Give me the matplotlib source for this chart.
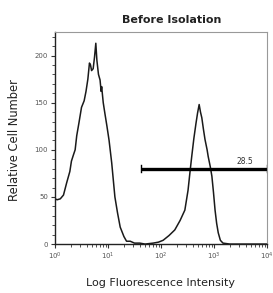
import numpy as np
import matplotlib
matplotlib.use("Agg")
import matplotlib.pyplot as plt
from matplotlib.ticker import LogLocator, MultipleLocator, FixedLocator

# Histogram: log10 of fluorescence, and relative cell number
log_intensity = [0.00, 0.04, 0.10, 0.16, 0.22, 0.28, 0.31, 0.35, 0.38, 0.41, 0.45, 0.50,
                 0.55, 0.585, 0.62, 0.65, 0.67, 0.69, 0.72, 0.745, 0.77, 0.79, 0.82, 0.85,
                 0.87, 0.88, 0.91, 0.94, 0.98, 1.02, 1.07, 1.13, 1.18, 1.23, 1.30, 1.35,
                 1.42, 1.50, 1.60, 1.70, 1.85, 1.95, 2.04, 2.15, 2.26, 2.36, 2.45, 2.51,
                 2.55, 2.58, 2.62, 2.66, 2.69, 2.72, 2.745, 2.77, 2.80, 2.83, 2.87, 2.89,
                 2.93, 2.96, 2.99, 3.02, 3.05, 3.08, 3.12, 3.17, 3.30, 3.60, 4.00]
cell_number = [48, 47, 48, 52, 65, 77, 88, 95, 100, 115, 128, 145,
               152, 162, 175, 192, 190, 184, 186, 198, 213, 195, 180, 174,
               162, 167, 150, 139, 125, 110, 86, 50, 33, 18, 8, 3,
               3, 1, 1, 0, 1, 2, 4, 9, 15, 25, 36, 57,
               78, 93, 112, 128, 139, 148, 140, 134, 122, 111, 100, 93,
               82, 72, 55, 36, 22, 12, 4, 1, 0, 0, 0]

gate_start = 41.5
gate_end = 10000
gate_level = 80
gate_label = "28.5"

title = "Before Isolation"
xlabel = "Log Fluorescence Intensity"
ylabel = "Relative Cell Number"

intensity = [10 ** v for v in log_intensity]

fig = plt.figure(figsize=(2.73, 2.93), dpi=100)
ax = fig.add_axes([0.2015, 0.167, 0.7765, 0.724])

ax.plot(intensity, cell_number, color="#1a1a1a", lw=1.1)

ax.plot([gate_start, gate_end], [gate_level, gate_level], color="black", lw=2.4,
        solid_capstyle="butt")
ax.plot([gate_start, gate_start], [gate_level - 4, gate_level + 4], color="black", lw=1.0)
ax.plot([gate_end, gate_end], [gate_level - 4, gate_level + 4], color="black", lw=1.0)
ax.text(10 ** 3.58, gate_level + 3, gate_label, fontsize=5.5, color="#333333",
        ha="center", va="bottom")

ax.set_xscale("log")
ax.set_xlim(1, 10000)
ax.set_ylim(0, 225)

ax.xaxis.set_major_locator(LogLocator(base=10, numticks=10))
ax.xaxis.set_minor_locator(LogLocator(base=10, subs=np.arange(2, 10), numticks=20))
ax.yaxis.set_major_locator(FixedLocator([0, 50, 100, 150, 200]))
ax.yaxis.set_minor_locator(MultipleLocator(10))

ax.tick_params(axis="both", which="major", labelsize=5, labelcolor="#555555",
               length=3, width=0.8, color="#333333", pad=2)
ax.tick_params(axis="both", which="minor", length=2, width=0.6, color="#333333")

for side in ("top", "right"):
    ax.spines[side].set_color("#999999")
    ax.spines[side].set_linewidth(0.8)
for side in ("left", "bottom"):
    ax.spines[side].set_color("#222222")
    ax.spines[side].set_linewidth(1.0)

fig.text(172 / 273, 1 - 20 / 293, title, fontsize=8, fontweight="bold",
         color="#222222", ha="center", va="center")
fig.text(161 / 273, 1 - 283 / 293, xlabel, fontsize=8, color="#222222",
         ha="center", va="center")
fig.text(15 / 273, 1 - 140 / 293, ylabel, fontsize=8.3, color="#222222",
         ha="center", va="center", rotation=90)

fig.savefig("out.png", dpi=100, facecolor="white")
